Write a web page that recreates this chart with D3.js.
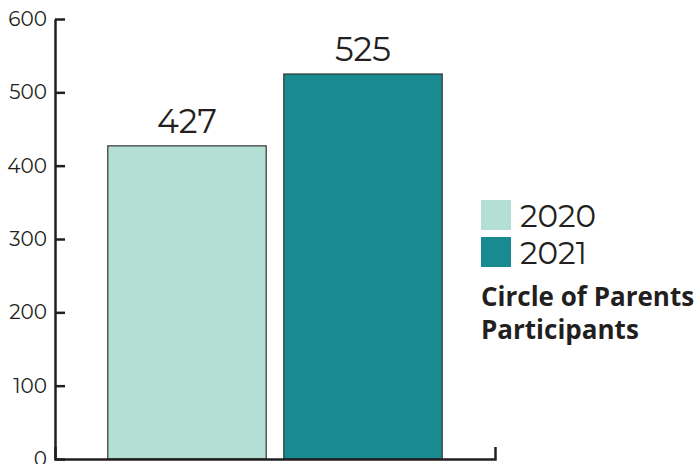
<!DOCTYPE html>
<html>
<head>
<meta charset="utf-8">
<script src="https://cdn.jsdelivr.net/npm/d3@7"></script>
<style>
  body { margin: 0; background: #fff; }
  svg { display: block; }
</style>
</head>
<body>
<svg width="700" height="464"></svg>
<script>
var years = ["2020", "2021"];
var participants = [427, 525];
var barColors = ["#b4dfd4", "#1a8a91"];
var yTicks = [0, 100, 200, 300, 400, 500, 600];
var titleLines = ["Circle of Parents", "Participants"];

var svg = d3.select("svg");
var ink = "#231f20";
var font = "Montserrat, Lato, 'Noto Sans', sans-serif";

var x = d3.scaleBand()
    .domain(years)
    .range([55, 495])
    .paddingInner(0.1)
    .paddingOuter(0.3);

var y = d3.scaleLinear()
    .domain([0, 600])
    .range([459, 19]);

var color = d3.scaleOrdinal().domain(years).range(barColors);

var data = years.map(function (d, i) {
    return {year: d, value: participants[i]};
});

// bars
svg.append("g")
    .selectAll("rect")
    .data(data)
    .enter().append("rect")
    .attr("x", function (d) { return x(d.year); })
    .attr("y", function (d) { return y(d.value); })
    .attr("width", x.bandwidth())
    .attr("height", function (d) { return y(0) - y(d.value); })
    .attr("fill", function (d) { return color(d.year); })
    .attr("stroke", "#333")
    .attr("stroke-width", 1.2);

// value labels
svg.append("g")
    .selectAll("text")
    .data(data)
    .enter().append("text")
    .attr("x", function (d) { return x(d.year) + x.bandwidth() / 2; })
    .attr("y", function (d) { return y(d.value) - 13; })
    .attr("text-anchor", "middle")
    .style("font-family", font)
    .style("font-size", "33px")
    .style("fill", ink)
    .text(function (d) { return d.value; });

// y axis
var yAxis = svg.append("g")
    .attr("transform", "translate(55,0)")
    .call(d3.axisLeft(y).tickValues(yTicks).tickSizeInner(-10).tickSizeOuter(0).tickPadding(8));
yAxis.select(".domain").attr("stroke", ink).attr("stroke-width", 2.5);
yAxis.selectAll(".tick line").attr("stroke", ink).attr("stroke-width", 2.5);
yAxis.selectAll(".tick text")
    .style("font-family", font)
    .style("font-size", "20px")
    .style("fill", ink);

// x axis
var xAxis = svg.append("g")
    .attr("transform", "translate(0,459)")
    .call(d3.axisBottom(x).tickSizeInner(0).tickSizeOuter(-12).tickFormat(""));
xAxis.select(".domain").attr("stroke", ink).attr("stroke-width", 2.5).attr("fill", "none");
xAxis.selectAll(".tick").remove();

// legend
var legend = svg.append("g")
    .selectAll("g")
    .data(years)
    .enter().append("g")
    .attr("transform", function (d, i) { return "translate(481," + (200 + i * 37) + ")"; });

legend.append("rect")
    .attr("width", 30)
    .attr("height", 30)
    .attr("fill", function (d) { return color(d); });

legend.append("text")
    .attr("x", 39)
    .attr("y", 27)
    .style("font-family", font)
    .style("font-size", "31px")
    .style("fill", ink)
    .text(function (d) { return d; });

svg.append("g")
    .selectAll("text")
    .data(titleLines)
    .enter().append("text")
    .attr("x", 481)
    .attr("y", function (d, i) { return 306 + i * 33; })
    .style("font-family", "'Open Sans', sans-serif")
    .style("font-weight", "bold")
    .style("font-size", "26px")
    .style("fill", ink)
    .text(function (d) { return d; });
</script>
</body>
</html>
